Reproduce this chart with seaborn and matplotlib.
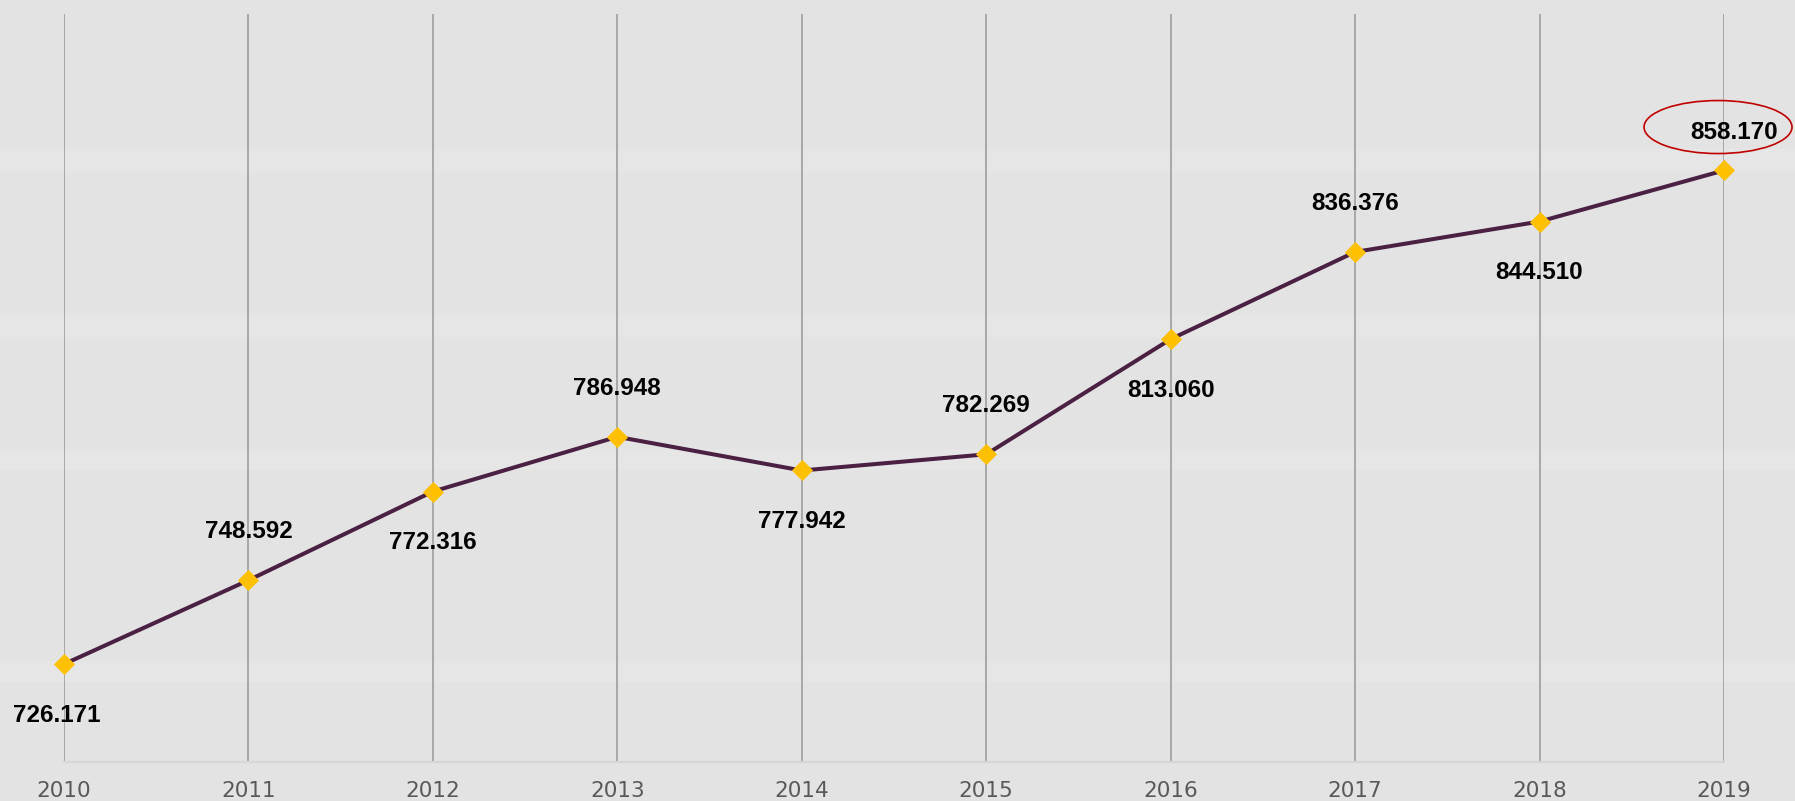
import matplotlib
matplotlib.use('Agg')
import matplotlib.pyplot as plt
import matplotlib.patches as mpatches
import matplotlib.transforms as mtransforms
import seaborn as sns
import pandas as pd

# Data
years = [2010, 2011, 2012, 2013, 2014, 2015, 2016, 2017, 2018, 2019]
values = [726.171, 748.592, 772.316, 786.948, 777.942, 782.269, 813.060, 836.376, 844.510, 858.170]
value_labels = ['726.171', '748.592', '772.316', '786.948', '777.942',
                '782.269', '813.060', '836.376', '844.510', '858.170']

df = pd.DataFrame({'year': years, 'value': values})

bg = '#e3e3e3'
sns.set_style('white', {'axes.facecolor': 'none', 'figure.facecolor': bg})
plt.rcParams['font.family'] = ['Liberation Sans', 'DejaVu Sans']

fig = plt.figure(figsize=(17.95, 8.01), dpi=100)

# subtle lighter stripes across the whole background
for y0, y1 in [(0.149, 0.175), (0.413, 0.439), (0.579, 0.607), (0.785, 0.814)]:
    fig.patches.append(mpatches.Rectangle((0, y0), 1, y1 - y0, transform=fig.transFigure,
                                          facecolor='#e6e6e6', edgecolor='none', zorder=-5))

ax = fig.add_axes([64 / 1795, 1 - 762 / 801, (1724 - 64) / 1795, (762 - 14) / 801])

sns.lineplot(data=df, x='year', y='value', ax=ax, color='#4a2043', linewidth=2.9,
             marker='D', markersize=10, markerfacecolor='#ffc000',
             markeredgecolor='#ffc000', markeredgewidth=0.6, zorder=3, clip_on=False)

ax.set_xlim(years[0], years[-1])
ax.set_ylim(700, 900)
ax.set_xticks(years)
ax.set_xticklabels([str(y) for y in years], fontfamily='DejaVu Sans')
ax.set_yticks([])
ax.set_xlabel('')
ax.set_ylabel('')
ax.tick_params(axis='x', length=0, pad=14, labelsize=15.5, labelcolor='#595959')
ax.xaxis.grid(True, color='#a8a8a8', linewidth=1.4)
ax.yaxis.grid(False)
ax.set_axisbelow(True)
for side in ['left', 'right', 'top']:
    ax.spines[side].set_visible(False)
ax.spines['bottom'].set_color('#d6d6d6')
ax.spines['bottom'].set_linewidth(1.6)

# value labels, alternating below / above the points
last = len(years) - 1
for i, (x, y, lab) in enumerate(zip(years, values, value_labels)):
    dx = 0
    if i == last:
        dy, dx = 27, 7
    elif i % 2 == 0:
        dy = -37
    else:
        dy = 35
    if i == 0:
        dx = -5
    ax.annotate(lab, (x, y), xytext=(dx, dy), textcoords='offset points',
                ha='center', va='center', fontsize=17.5, fontweight='bold',
                color='black', zorder=4, annotation_clip=False)

# red ellipse highlighting the last value
trans = fig.dpi_scale_trans + mtransforms.ScaledTranslation(years[-1], values[-1], ax.transData)
ell = mpatches.Ellipse((-0.06, 0.434), width=1.48, height=0.53, transform=trans,
                       facecolor='none', edgecolor='#c00000', linewidth=1.2,
                       clip_on=False, zorder=5)
ax.add_patch(ell)

fig.savefig('out.png', dpi=100, facecolor=bg)
